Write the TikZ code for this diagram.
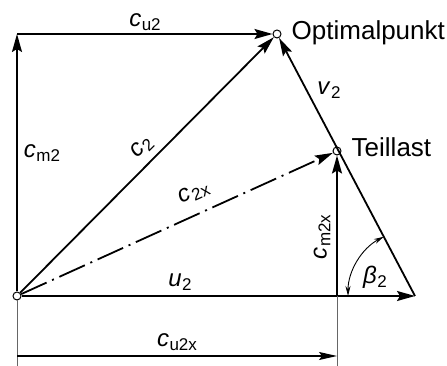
\documentclass[tikz,border=0pt]{standalone}
\usepackage{fontspec}
\setmainfont{Liberation Sans}
\usepackage{tikz}
\usetikzlibrary{arrows.meta, positioning, calc}

\newcommand{\vel}[2]{\textit{#1}\kern0.5pt\raisebox{-0.3ex}{\fontsize{17}{17}\selectfont #2}}

\begin{document}
\begin{tikzpicture}[
  x=1pt, y=1pt,
  every node/.style={font=\fontsize{24}{28}\selectfont, inner sep=1pt},
  vec/.style={-{Stealth[length=18pt, width=10pt, inset=3pt]}, line width=1.8pt},
  dimline/.style={-{Stealth[length=18pt, width=8pt, inset=3pt]}, line width=1.2pt},
  extline/.style={line width=0.8pt, black!60},
  angarrow/.style={{Stealth[length=10pt, width=5pt]}-{Stealth[length=10pt, width=5pt]}, line width=0.9pt},
  pt/.style={circle, draw, line width=1pt, fill=white, inner sep=0pt, minimum size=8pt},
  pointlabel/.style={font=\fontsize{26}{30}\selectfont}
]
\useasboundingbox (0,0) rectangle (447,366);

% Points of the triangles
\node[pt] (O) at (17,70) {};
\node[pt] (opt) at (277,332) {};
\node[pt] (teil) at (337,215) {};
\coordinate (top) at (17,332);
\coordinate (uend) at (415,70);
\coordinate (base) at (337,70);

% Point labels
\node[pointlabel, right=9pt of opt, anchor=base west, yshift=-6pt] (optlbl) {Optimalpunkt};
\node[pointlabel, right=9pt of teil, anchor=base west, yshift=-6pt] (teillbl) {Teillast};

% Optimal point: c_m2, c_u2, c2, v2
\draw[vec] (O) -- (top);
\draw[vec] (top) -- (opt);
\draw[vec] (O) -- (opt);
\draw[vec] (uend) -- (opt);
\node (cm2) at (42,213) {\vel{c}{m2}};
\node (cu2) at (145,344) {\vel{c}{u2}};
\node[rotate=45] (c2) at (142,218) {\vel{c}{2}};
\node (v2) at (329,276) {\vel{v}{2}};

% Part load: c2x, cm2x
\draw[vec, dash pattern=on 28pt off 6pt on 2pt off 6pt] (O) -- (teil);
\draw[vec] (base) -- (teil);
\node[rotate=24] (c2x) at (194,173) {\vel{c}{2x}};
\node[rotate=90] (cm2x) at (322,129) {\vel{c}{m2x}};

% Circumferential speed u2 and angle beta2
\draw[vec] (O) -- (uend);
\node (u2) at (180,84) {\vel{u}{2}};
\draw[angarrow] ($(uend)+(180:67)$) arc[start angle=180, end angle=117.8, radius=67pt];
\node (beta2) at (375,89) {\vel{β}{2}};

% Dimension c_u2x
\coordinate (dimL) at (17,10);
\coordinate (dimR) at (337,10);
\draw[extline] (O) -- (17,0);
\draw[extline] (base) -- (337,0);
\draw[dimline] (dimL) -- (dimR);
\node (cu2x) at (177,24) {\vel{c}{u2x}};

\end{tikzpicture}
\end{document}
